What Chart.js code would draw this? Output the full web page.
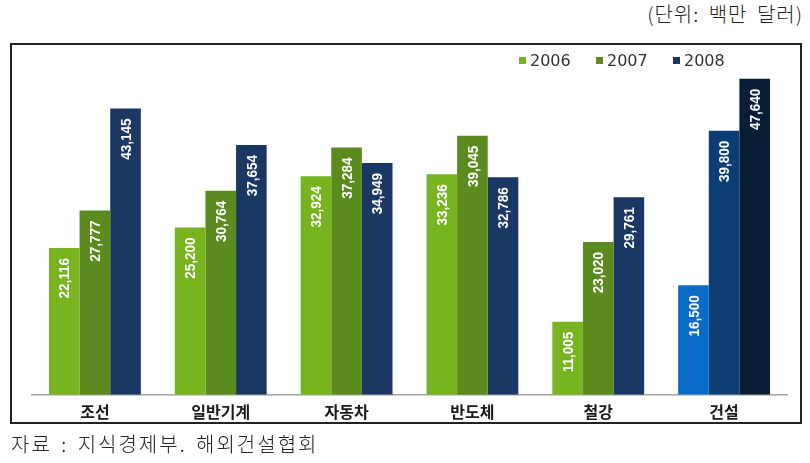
<!DOCTYPE html>
<html><head><meta charset="utf-8">
<script src="https://cdn.jsdelivr.net/npm/chart.js@4.4.0/dist/chart.umd.min.js"></script>
<style>
html,body{margin:0;padding:0;background:#fff;}
#wrap{position:relative;width:810px;height:463px;overflow:hidden;font-family:"Noto Sans CJK KR",sans-serif;}
canvas{position:absolute;left:0;top:0;}
#box{position:absolute;left:10px;top:43px;width:788px;height:377px;border:2px solid #222;pointer-events:none;}
#unit{position:absolute;right:7px;top:-1px;font-size:20px;font-weight:300;letter-spacing:1px;word-spacing:4px;color:#222;line-height:30px;}
#src{position:absolute;left:11px;top:429px;font-size:20px;font-weight:300;letter-spacing:2px;word-spacing:3px;color:#222;line-height:30px;}
#legend{position:absolute;left:519px;top:51px;font-family:"DejaVu Sans",sans-serif;font-size:16px;color:#333;white-space:nowrap;}
#legend span.i{display:inline-block;width:77px;}
#legend span.b{display:inline-block;width:7px;height:7px;margin-right:4px;vertical-align:2px;}
</style></head>
<body><div id="wrap">
<div id="unit">(단위: 백만 달러)</div>
<canvas id="c" width="810" height="463"></canvas>
<div id="box"></div>
<div id="legend"></div>
<div id="src">자료 : 지식경제부. 해외건설협회</div>
</div>
<script>
const categories = ["조선", "일반기계", "자동차", "반도체", "철강", "건설"];
const seriesNames = ["2006", "2007", "2008"];
const values2006 = [22116, 25200, 32924, 33236, 11005, 16500];
const values2007 = [27777, 30764, 37284, 39045, 23020, 39800];
const values2008 = [43145, 37654, 34949, 32786, 29761, 47640];

const baseColors = ["#78b41f", "#5b8a1f", "#1b3763"];
const highlightColors = ["#0a6bc9", "#0c3d75", "#071d36"];
function colorsFor(i){ return categories.map((c,k)=> k===categories.length-1 ? highlightColors[i] : baseColors[i]); }

const legend = document.getElementById('legend');
seriesNames.forEach((n,i)=>{
  const s=document.createElement('span');s.className='i';
  s.innerHTML='<span class="b" style="background:'+baseColors[i]+'"></span>'+n;
  legend.appendChild(s);
});

const valueLabels = {
  id:'valueLabels',
  afterDatasetsDraw(chart){
    const ctx=chart.ctx;
    chart.data.datasets.forEach((ds,di)=>{
      chart.getDatasetMeta(di).data.forEach((bar,k)=>{
        const v=ds.data[k];
        ctx.save();
        ctx.translate(bar.x+1, bar.y+10);
        ctx.rotate(-Math.PI/2);
        ctx.scale(0.9,1);
        ctx.font='bold 15px "Liberation Sans", sans-serif';
        ctx.fillStyle='#ffffff';
        ctx.textAlign='right';
        ctx.textBaseline='middle';
        ctx.fillText(v.toLocaleString('en-US'),0,0);
        ctx.restore();
      });
    });
  }
};

new Chart(document.getElementById('c'),{
  type:'bar',
  data:{
    labels:categories,
    datasets:[
      {label:seriesNames[0],data:values2006,backgroundColor:colorsFor(0)},
      {label:seriesNames[1],data:values2007,backgroundColor:colorsFor(1)},
      {label:seriesNames[2],data:values2008,backgroundColor:colorsFor(2)}
    ]
  },
  options:{
    responsive:false,animation:false,
    layout:{padding:{left:32,right:23,top:63,bottom:33}},
    datasets:{bar:{categoryPercentage:0.73,barPercentage:1.0}},
    plugins:{legend:{display:false},tooltip:{enabled:false}},
    scales:{
      x:{grid:{display:false,drawTicks:false},border:{color:'#a6a6a6',width:1.5},
         ticks:{padding:8,color:'#1a1a1a',font:{family:'"Noto Sans CJK KR"',size:16,weight:'bold'}}},
      y:{display:false,min:0,max:50000}
    }
  },
  plugins:[valueLabels]
});
</script>
</body></html>
